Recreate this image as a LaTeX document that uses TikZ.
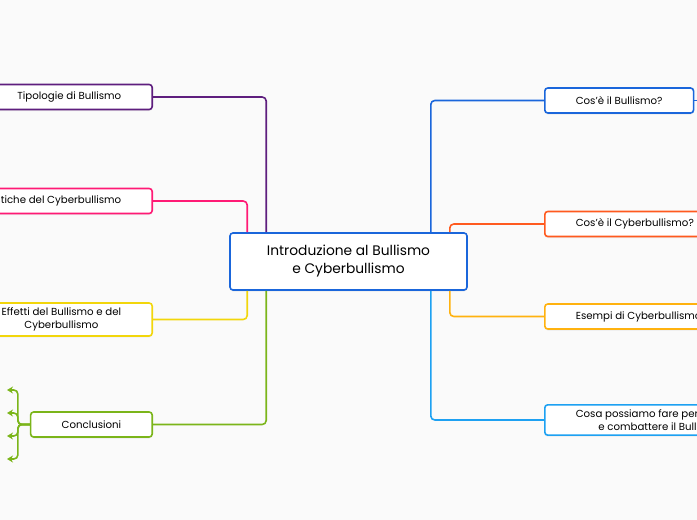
\documentclass[tikz,border=0pt]{standalone}
\usepackage{fontspec}
\setmainfont{Poppins}
\usepackage{tikz}
\usetikzlibrary{positioning, arrows.meta, shadows}
\definecolor{bcback}{HTML}{FAFAFA}
\definecolor{bcblue}{HTML}{1A66DB}
\definecolor{bcpurple}{HTML}{5E1E7E}
\definecolor{bcpink}{HTML}{FF1A75}
\definecolor{bcyellow}{HTML}{F2D60B}
\definecolor{bcgreen}{HTML}{7BB51A}
\definecolor{bcorange}{HTML}{FF5A1F}
\definecolor{bcamber}{HTML}{FFB20F}
\definecolor{bcsky}{HTML}{1DA1F2}

\begin{document}
\begin{tikzpicture}[x=1pt, y=-1pt, font=\fontsize{10.2}{12.5}\selectfont,
    topic/.style={draw=#1, line width=1.6pt, rounded corners=3pt, fill=white, inner xsep=31pt, inner ysep=5pt,
      minimum height=25pt, align=center, drop shadow={opacity=0.12, shadow xshift=0pt, shadow yshift=-1.5pt}},
    link/.style={draw=#1, line width=1.6pt, rounded corners=4pt}]
    \useasboundingbox (0,0) rectangle (697,520);
    \fill[bcback] (0,0) rectangle (697,520);
    \node[topic=bcblue, minimum width=237pt, minimum height=57pt, inner xsep=5pt, font=\fontsize{13.8}{18}\selectfont] (intro) at (348.5,261.5) {Introduzione al Bullismo\\e Cyberbullismo};
    \node[topic=bcpurple, anchor=east] (tipo) at (153,97) {Tipologie di Bullismo};
    \node[topic=bcpink, anchor=east] (carat) at (153,201) {Caratteristiche del Cyberbullismo};
    \node[topic=bcyellow, anchor=east] (effet) at (153,319.5) {Effetti del Bullismo e del\\Cyberbullismo};
    \node[topic=bcgreen, anchor=east] (concl) at (153,424.5) {Conclusioni};
    \node[topic=bcblue, anchor=west] (cosbul) at (544,100.5) {Cos'è il Bullismo?};
    \node[topic=bcorange, anchor=west] (coscyb) at (544,224) {Cos'è il Cyberbullismo?};
    \node[topic=bcamber, anchor=west] (esempi) at (544,316.5) {Esempi di Cyberbullismo};
    \node[topic=bcsky, anchor=west] (cosa) at (544,420) {Cosa possiamo fare per prevenire\\e combattere il Bullismo?};
    \coordinate (bulnext) at (712,100.5);
    \draw[link=bcpurple] (tipo.east) -| ([xshift=37pt]intro.north west);
    \draw[link=bcpink] (carat.east) -| ([xshift=18pt]intro.north west);
    \draw[link=bcyellow] (effet.east) -| ([xshift=18pt]intro.south west);
    \draw[link=bcgreen] (concl.east) -| ([xshift=37pt]intro.south west);
    \draw[link=bcblue] (cosbul.west) -| ([xshift=-37pt]intro.north east);
    \draw[link=bcorange] (coscyb.west) -| ([xshift=-18pt]intro.north east);
    \draw[link=bcamber] (esempi.west) -| ([xshift=-18pt]intro.south east);
    \draw[link=bcsky] (cosa.west) -| ([xshift=-37pt]intro.south east);
    \draw[link=bcblue] (cosbul.east) -- (bulnext);
    \foreach \k/\yy in {1/390,2/413,3/436,4/459} {
      \coordinate (sub\k) at (7,\yy);
      \draw[link=bcgreen, -{Stealth[length=6pt, width=7pt]}] (concl.west) -- ++(-12,0) |- (sub\k);
    }
  \end{tikzpicture}
\end{document}
